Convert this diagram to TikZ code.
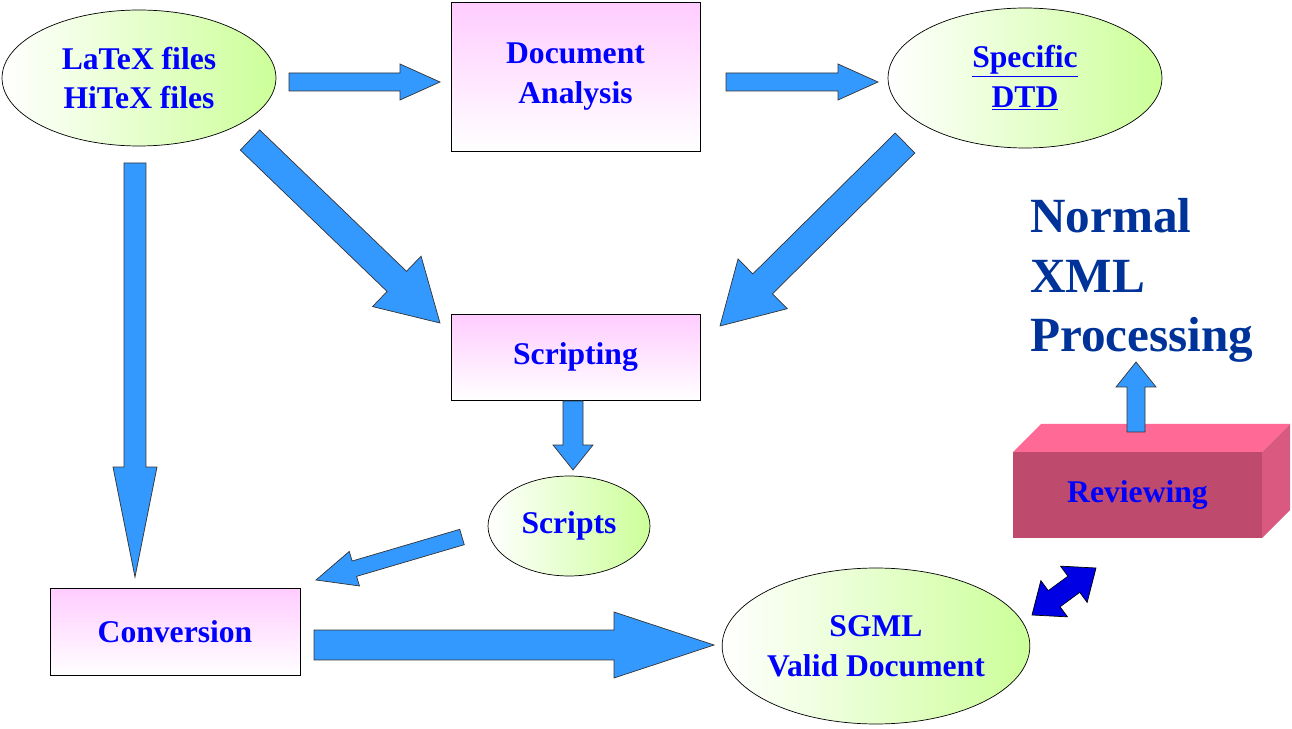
\documentclass[tikz,border=0pt]{standalone}
\usepackage{fontspec}
\setmainfont{Liberation Serif}
\usetikzlibrary{calc, positioning, shapes.geometric}
\definecolor{txtblue}{RGB}{0,0,255}
\definecolor{darkblue}{RGB}{0,51,153}
\definecolor{arrblue}{RGB}{51,153,255}
\definecolor{limegreen}{RGB}{204,255,153}
\definecolor{pinkbox}{RGB}{255,204,255}
\definecolor{revfront}{RGB}{190,75,110}
\definecolor{revtop}{RGB}{255,105,150}
\tikzset{
  lbl/.style={font=\fontsize{18}{22.7}\selectfont\bfseries, text=txtblue, align=center},
  greenell/.style={draw, ellipse, inner sep=0pt, left color=white, right color=limegreen, lbl},
  pinkbox/.style={draw, top color=pinkbox, bottom color=white, lbl},
  fatarrow/.style={draw=black!80, fill=arrblue, line join=miter}
}
% block arrow: from, to, half shaft, half head, head length
\newcommand{\blockarr}[6][fatarrow]{%
  \path[#1]
    ($(#2)!#4!90:(#3)$) -- ($($(#3)!#6!(#2)$)!#4!90:(#3)$)
    -- ($($(#3)!#6!(#2)$)!#5!90:(#3)$) -- (#3)
    -- ($($(#3)!#6!(#2)$)!#5!-90:(#3)$) -- ($($(#3)!#6!(#2)$)!#4!-90:(#3)$)
    -- ($(#2)!#4!-90:(#3)$) -- cycle;}
\begin{document}
\begin{tikzpicture}[x=0.02cm, y=-0.02cm]
  \useasboundingbox (0,0) rectangle (1292,729);
  % nodes
  \node[greenell, minimum width=5.48cm, minimum height=2.72cm] (latex) at (139,78) {LaTeX files\\HiTeX files};
  \node[pinkbox, minimum width=4.98cm, minimum height=2.98cm] (analysis) at (575.5,76.5) {Document\\Analysis};
  \node[greenell, minimum width=5.48cm, minimum height=2.8cm] (dtd) at (1025,78) {\underline{Specific}\\\underline{DTD}};
  \node[pinkbox, minimum width=4.98cm, minimum height=1.72cm] (scripting) at (575.5,357) {Scripting};
  \node[greenell, minimum width=3.24cm, minimum height=2cm] (scripts) at (569,526) {Scripts};
  \node[pinkbox, minimum width=5cm, minimum height=1.74cm] (conversion) at (175,631.5) {Conversion};
  \node[greenell, minimum width=6cm, minimum height=3.12cm] (sgml) at (876,646) {SGML\\Valid Document};
  % reviewing box
  \fill[revtop] (1013,452) -- (1041,424) -- (1290,424) -- (1262,452) -- cycle;
  \fill[revtop!85!black] (1262,452) -- (1290,424) -- (1290,510) -- (1262,538) -- cycle;
  \fill[revfront] (1013,452) rectangle (1262,538);
  \node[lbl] (review) at (1137.5,495) {Reviewing};
  \node[font=\fontsize{28}{34}\selectfont\bfseries, text=darkblue, align=left, anchor=north west, inner sep=0pt] (xml) at (1030,198) {Normal\\XML\\Processing};
  % arrow end points
  \coordinate (a1) at (289,82);  \coordinate (b1) at (440,82);
  \coordinate (a2) at (726,82);  \coordinate (b2) at (878,82);
  \coordinate (a3) at (250,140); \coordinate (b3) at (440,323);
  \coordinate (a4) at (905,143); \coordinate (b4) at (720,326);
  \coordinate (a5) at (135,163); \coordinate (b5) at (135,577);
  \coordinate (a6) at (573,401); \coordinate (b6) at (573,470);
  \coordinate (a7) at (462,537); \coordinate (b7) at (316,580);
  \coordinate (a8) at (314,645); \coordinate (b8) at (714,645);
  \coordinate (a9) at (1136,432); \coordinate (b9) at (1136,362);
  \coordinate (a10) at (1032,615); \coordinate (b10) at (1096,568);
  \blockarr{a1}{b1}{0.18cm}{0.36cm}{0.8cm}
  \blockarr{a2}{b2}{0.18cm}{0.36cm}{0.8cm}
  \blockarr{a3}{b3}{0.28cm}{0.7cm}{1.2cm}
  \blockarr{a4}{b4}{0.28cm}{0.7cm}{1.2cm}
  \blockarr{a5}{b5}{0.22cm}{0.44cm}{2.2cm}
  \blockarr{a6}{b6}{0.2cm}{0.4cm}{0.5cm}
  \blockarr{a7}{b7}{0.16cm}{0.36cm}{0.8cm}
  \blockarr{a8}{b8}{0.3cm}{0.66cm}{2cm}
  \blockarr{a9}{b9}{0.18cm}{0.4cm}{0.5cm}
  % double arrow
  \coordinate (m10) at ($(a10)!0.5!(b10)$);
  \blockarr[fatarrow, fill=blue!90!black, draw=black]{m10}{b10}{0.2cm}{0.45cm}{0.55cm}
  \blockarr[fatarrow, fill=blue!90!black, draw=black]{m10}{a10}{0.2cm}{0.45cm}{0.55cm}
  \fill[blue!90!black] ($(m10)!0.19cm!90:(b10)$) -- ($(m10)!0.19cm!-90:(b10)$) -- ($($(m10)!0.3cm!(b10)$)!0.19cm!-90:(b10)$) -- ($($(m10)!0.3cm!(b10)$)!0.19cm!90:(b10)$) -- cycle;
  \fill[blue!90!black] ($(m10)!0.19cm!90:(a10)$) -- ($(m10)!0.19cm!-90:(a10)$) -- ($($(m10)!0.3cm!(a10)$)!0.19cm!-90:(a10)$) -- ($($(m10)!0.3cm!(a10)$)!0.19cm!90:(a10)$) -- cycle;
\end{tikzpicture}
\end{document}
